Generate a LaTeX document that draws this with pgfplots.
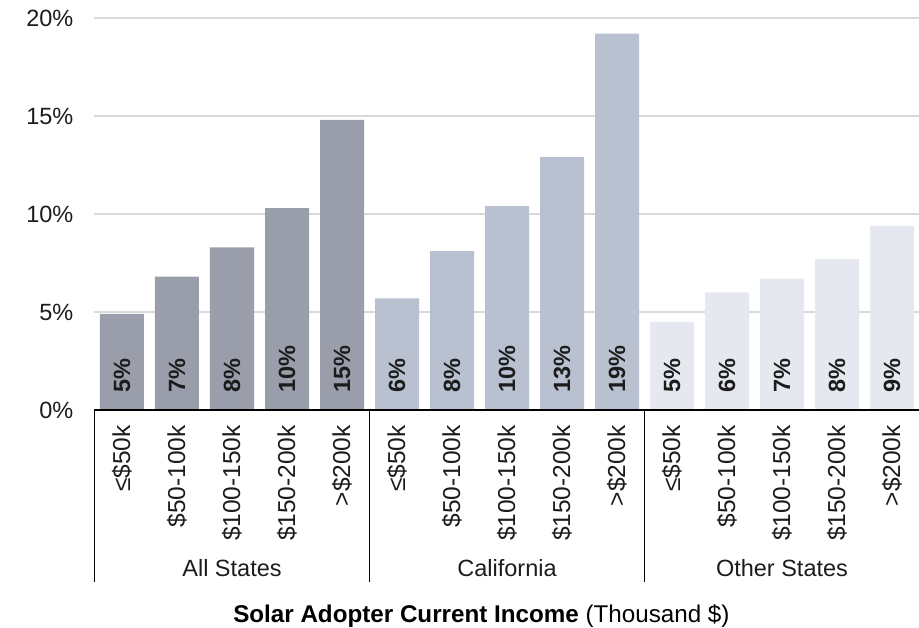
\documentclass[border=0pt]{standalone}
\usepackage{pgfplots}
\pgfplotsset{compat=1.18}
\usepackage{pgfplotstable}
\usepackage{fontspec}
\setmainfont{Liberation Sans}
\definecolor{cAll}{HTML}{9A9EAB}
\definecolor{cCal}{HTML}{B9C1D1}
\definecolor{cOth}{HTML}{E6E8F0}
\definecolor{cGrid}{HTML}{D9D9D9}
\definecolor{cTxt}{HTML}{1C1C1C}

\pgfplotstableread{
x y lab
0 4.9 5
1 6.8 7
2 8.3 8
3 10.3 10
4 14.8 15
}\allstates
\pgfplotstableread{
x y lab
5 5.7 6
6 8.1 8
7 10.4 10
8 12.9 13
9 19.2 19
}\california
\pgfplotstableread{
x y lab
10 4.5 5
11 6.0 6
12 6.7 7
13 7.7 8
14 9.4 9
}\otherstates

\pgfplotsset{vlabels/.style={only marks, mark=none, draw=none,
  point meta=explicit symbolic,
  nodes near coords={\pgfplotspointmeta\%},
  every node near coord/.append style={yshift=17pt, rotate=90, anchor=west, inner sep=0pt,
     text=cTxt, font=\bfseries\fontsize{23.5}{26}\selectfont}}}

\begin{document}
\begin{tikzpicture}
\path[use as bounding box] (-94.5pt,-218pt) rectangle (824.5pt,410pt);
\begin{axis}[
  at={(0,0)}, anchor=south west, scale only axis,
  width=825pt, height=392pt,
  xmin=-0.5, xmax=14.5, ymin=0, ymax=20,
  xtick={0,1,2,3,4,5,6,7,8,9,10,11,12,13,14},
  xticklabels={≤\$50k,\$50-100k,\$100-150k,\$150-200k,>\$200k,
               ≤\$50k,\$50-100k,\$100-150k,\$150-200k,>\$200k,
               ≤\$50k,\$50-100k,\$100-150k,\$150-200k,>\$200k},
  ytick={0,5,10,15,20},
  yticklabels={0\%,5\%,10\%,15\%,20\%},
  ymajorgrids, grid style={cGrid, line width=1.3pt},
  major tick length=0pt,
  axis line style={draw=none},
  xticklabel style={rotate=90, anchor=east, inner sep=0pt, text=cTxt, font=\fontsize{24.5}{27}\selectfont},
  xticklabel shift=15pt,
  yticklabel style={anchor=east, inner sep=0pt, text=cTxt, font=\fontsize{23.5}{26}\selectfont},
  yticklabel shift=21pt,
  clip=false,
]
\addplot[ybar, bar width=44pt, bar shift=0pt, fill=cAll, draw=none] table[x=x,y=y] {\allstates};
\addplot[ybar, bar width=44pt, bar shift=0pt, fill=cCal, draw=none] table[x=x,y=y] {\california};
\addplot[ybar, bar width=44pt, bar shift=0pt, fill=cOth, draw=none] table[x=x,y=y] {\otherstates};

\addplot[vlabels] table[x=x, y expr=0, meta=lab] {\allstates};
\addplot[vlabels] table[x=x, y expr=0, meta=lab] {\california};
\addplot[vlabels] table[x=x, y expr=0, meta=lab] {\otherstates};

\draw[black, line width=1.5pt] (axis cs:-0.5,0) -- (axis cs:14.5,0);
\draw[black, line width=1.5pt] (axis cs:-0.5,0) -- ([yshift=-172pt]axis cs:-0.5,0);
\draw[black, line width=1.5pt] (axis cs:4.5,0) -- ([yshift=-172pt]axis cs:4.5,0);
\draw[black, line width=1.5pt] (axis cs:9.5,0) -- ([yshift=-172pt]axis cs:9.5,0);

\node[text=cTxt, font=\fontsize{23.5}{26}\selectfont, yshift=-158pt] at (axis cs:2,0) {All States};
\node[text=cTxt, font=\fontsize{23.5}{26}\selectfont, yshift=-158pt] at (axis cs:7,0) {California};
\node[text=cTxt, font=\fontsize{23.5}{26}\selectfont, yshift=-158pt] at (axis cs:12,0) {Other States};

\node[anchor=west, inner sep=0pt, text=black, yshift=-206pt] at (axis cs:2.02,0)
  {\fontsize{24.2}{28}\selectfont\bfseries Solar Adopter Current Income \mdseries(Thousand \$)};
\end{axis}
\end{tikzpicture}
\end{document}
